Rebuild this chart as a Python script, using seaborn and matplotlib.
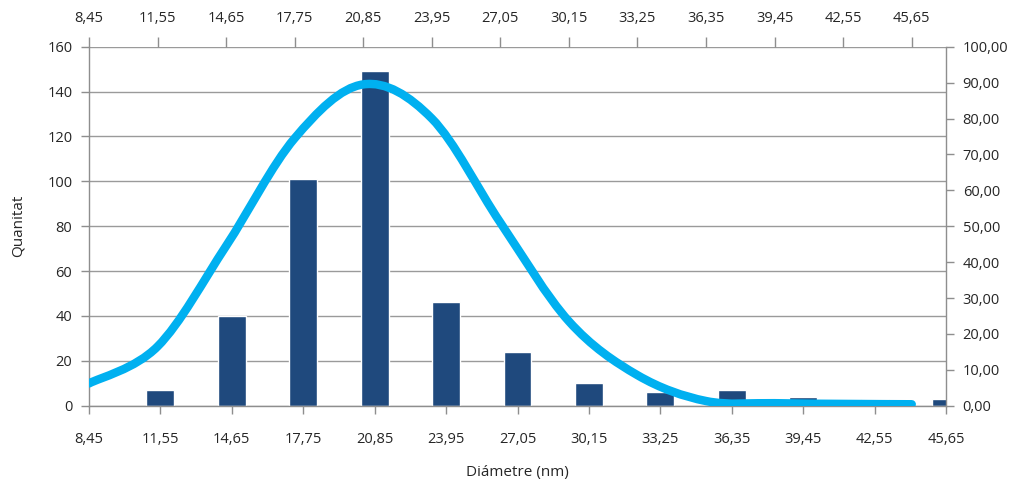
import numpy as np
import pandas as pd
import matplotlib
matplotlib.use("Agg")
import matplotlib.pyplot as plt
from matplotlib.path import Path
from matplotlib.patches import PathPatch
from matplotlib.ticker import FuncFormatter
import seaborn as sns

# Size classes (nm), shared by both horizontal axes
diameters = ["8,45", "11,55", "14,65", "17,75", "20,85", "23,95", "27,05",
             "30,15", "33,25", "36,35", "39,45", "42,55", "45,65"]

# Histogram counts (no particles in the first class)
bar_classes = ["11,55", "14,65", "17,75", "20,85", "23,95", "27,05",
               "30,15", "33,25", "36,35", "39,45", "42,55", "45,65"]
counts = [7, 40, 101, 149, 46, 24, 10, 6, 7, 4, 3, 3]

# Fitted distribution curve (secondary axis)
curve_values = [6.2, 16.5, 44.5, 74.5, 89.5, 80.0, 51.0, 23.5, 8.5, 1.3, 0.7, 0.5, 0.4]

left_ticks = list(range(0, 161, 20))
right_ticks = list(range(0, 101, 10))

BAR_COLOR = "#1F497D"
LINE_COLOR = "#00B0F0"
AXIS_GRAY = "#8E8E8E"
TEXT_COLOR = "#262626"
CURVE_WIDTH = 6.1

sns.set_style("white")
plt.rcParams["font.family"] = ["Open Sans", "DejaVu Sans"]
plt.rcParams["font.size"] = 10

fig = plt.figure(figsize=(10.31, 4.88), dpi=100)
rect = [89 / 1031, 1 - 405.7 / 488, (946 - 89) / 1031, (405.7 - 46.7) / 488]
ax = fig.add_axes(rect)

df = pd.DataFrame({"diam": bar_classes, "count": counts})
sns.barplot(data=df, x="diam", y="count", order=diameters, color=BAR_COLOR,
            saturation=1, width=0.39, ax=ax, zorder=2)
ax.set_xlim(0, len(diameters) - 1)
ax.set_ylim(0, 160)
ax.set_yticks(left_ticks)
ax.set_axisbelow(True)
ax.grid(axis="y", color="#9A9A9A", linewidth=1.0)
ax.grid(axis="x", visible=False)
for side in ["left", "bottom", "right"]:
    ax.spines[side].set_color(AXIS_GRAY)
    ax.spines[side].set_linewidth(1.0)
ax.spines["top"].set_visible(False)
ax.tick_params(axis="x", direction="out", length=6, width=1, color=AXIS_GRAY,
               pad=13, labelsize=10.5, labelcolor=TEXT_COLOR, bottom=True)
ax.tick_params(axis="y", direction="out", length=6, width=1, color=AXIS_GRAY,
               pad=6, labelsize=10.5, labelcolor=TEXT_COLOR, left=True)
ax.set_xlabel("Diámetre (nm)", fontsize=11, color=TEXT_COLOR)
ax.set_ylabel("Quanitat", fontsize=11, color=TEXT_COLOR)
ax.xaxis.set_label_coords(0.5, -0.165)
ax.yaxis.set_label_coords(-0.074, 0.5)

# Secondary axes: top category axis and right value axis for the curve
ax2 = fig.add_axes(rect, frameon=False)
ax2.patch.set_visible(False)
sns.lineplot(x=diameters, y=curve_values, ax=ax2, color=LINE_COLOR,
             linewidth=CURVE_WIDTH, sort=False)
ax2.set_xlim(0, 12.5)
ax2.set_ylim(0, 100)

# Render the curve as a smoothed Bezier through the plotted points
line = ax2.lines[0]
pts = line.get_xydata()
line.remove()
verts = [tuple(pts[0])]
codes = [Path.MOVETO]
n = len(pts)
for i in range(n - 1):
    p0 = pts[max(i - 1, 0)]
    p1 = pts[i]
    p2 = pts[i + 1]
    p3 = pts[min(i + 2, n - 1)]
    c1 = p1 + (p2 - p0) / 6.0
    c2 = p2 - (p3 - p1) / 6.0
    verts += [tuple(c1), tuple(c2), tuple(p2)]
    codes += [Path.CURVE4, Path.CURVE4, Path.CURVE4]
curve = PathPatch(Path(verts, codes), facecolor="none", edgecolor=LINE_COLOR,
                  linewidth=CURVE_WIDTH, capstyle="round", joinstyle="round",
                  transform=ax2.transData, zorder=3)
ax2.add_patch(curve)

ax2.xaxis.tick_top()
ax2.yaxis.tick_right()
ax2.set_xticks(range(len(diameters)))
ax2.set_xticklabels(diameters)
ax2.set_yticks(right_ticks)
ax2.yaxis.set_major_formatter(FuncFormatter(lambda v, _: f"{v:.2f}".replace(".", ",")))
ax2.tick_params(axis="x", direction="out", length=7, width=1, color=AXIS_GRAY,
                pad=8, labelsize=10.5, labelcolor=TEXT_COLOR, top=True, bottom=False)
ax2.tick_params(axis="y", direction="out", length=6, width=1, color=AXIS_GRAY,
                pad=6, labelsize=10.5, labelcolor=TEXT_COLOR, right=True, left=False)
ax2.set_xlabel("")
ax2.set_ylabel("")

fig.savefig("out.png", dpi=100, facecolor="white")
